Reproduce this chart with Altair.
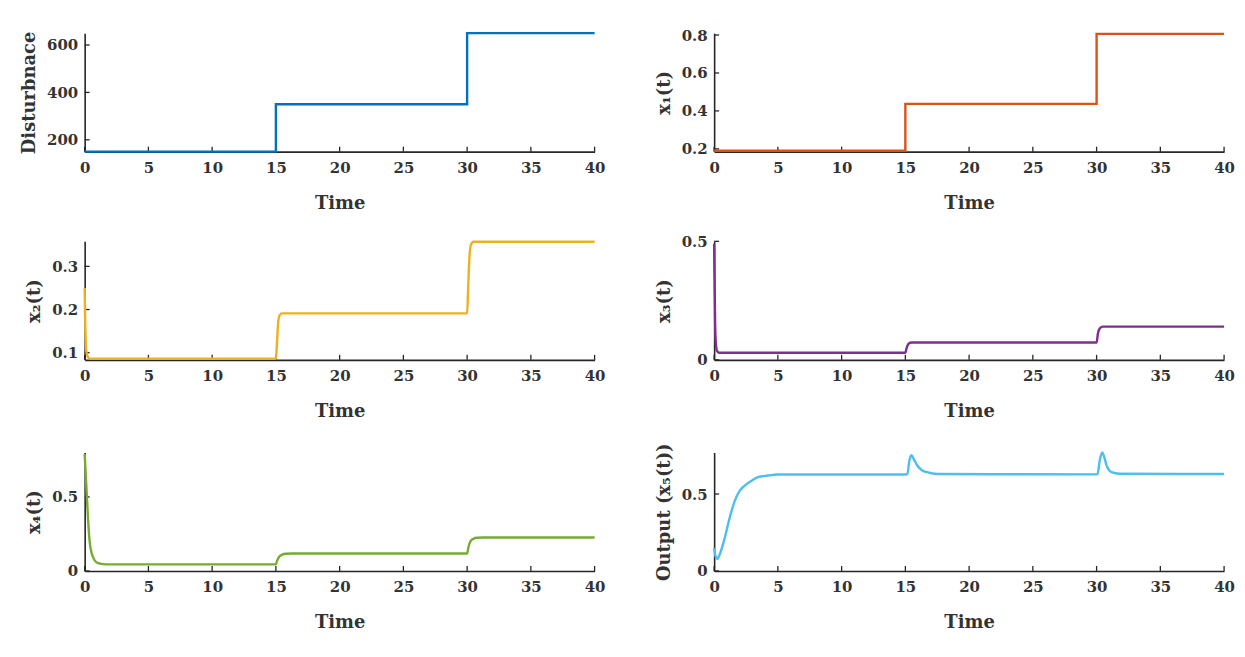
import altair as alt
import pandas as pd

# ---- data ----
dist_t = [0, 15, 15, 30, 30, 40]
dist_v = [150, 150, 350, 350, 650, 650]

x1_t = [0, 15, 15, 30, 30, 40]
x1_v = [0.19, 0.19, 0.437, 0.437, 0.806, 0.806]

x2_t = [0, 0.03, 0.08, 0.15, 0.25, 0.4, 15, 15.08, 15.18, 15.3, 15.5, 30, 30.08, 30.18, 30.3, 30.5, 40]
x2_v = [0.25, 0.19, 0.13, 0.1, 0.09, 0.086, 0.086, 0.12, 0.17, 0.187, 0.191, 0.191, 0.25, 0.32, 0.35, 0.357, 0.357]

x3_t = [0, 0.03, 0.08, 0.15, 0.25, 0.4, 15, 15.1, 15.25, 15.5, 30, 30.1, 30.25, 30.5, 40]
x3_v = [0.49, 0.35, 0.15, 0.06, 0.035, 0.03, 0.03, 0.05, 0.068, 0.073, 0.073, 0.11, 0.133, 0.14, 0.14]

x4_t = [0, 0.08, 0.18, 0.28, 0.39, 0.55, 0.7, 0.91, 1.2, 1.7, 2.5, 15, 15.1, 15.26, 15.5, 15.76, 16.3, 30, 30.1, 30.26, 30.5, 30.76, 31.3, 40]
x4_v = [0.79, 0.66, 0.49, 0.33, 0.2, 0.12, 0.085, 0.06, 0.05, 0.045, 0.045, 0.045, 0.07, 0.096, 0.11, 0.116, 0.118, 0.118, 0.16, 0.2, 0.218, 0.224, 0.226, 0.226]

x5_t = [0, 0.1, 0.26, 0.45, 0.83, 1.2, 1.62, 2.0, 2.4, 3.0, 3.44, 4.2, 5.0, 15.0, 15.16, 15.3, 15.47, 15.7, 15.94, 16.3, 16.7, 17.5, 30.0, 30.08, 30.25, 30.44, 30.6, 30.78, 31.17, 31.8, 40]
x5_v = [0.149, 0.1, 0.079, 0.11, 0.214, 0.34, 0.456, 0.52, 0.555, 0.59, 0.609, 0.62, 0.627, 0.627, 0.63, 0.71, 0.752, 0.72, 0.685, 0.655, 0.642, 0.63, 0.628, 0.632, 0.72, 0.77, 0.74, 0.686, 0.642, 0.632, 0.63]

time_ticks = [0, 5, 10, 15, 20, 25, 30, 35, 40]

W, H = 512, 119
FONT = "DejaVu Serif"
AXC = "#262626"

panels = [
    dict(t=dist_t, v=dist_v, color="#0072BD", title="Disturbnace", dom=[150, 650], ticks=[200, 400, 600], interp="linear"),
    dict(t=x1_t, v=x1_v, color="#D95319", title="x₁(t)", dom=[0.185, 0.81], ticks=[0.2, 0.4, 0.6, 0.8], interp="linear"),
    dict(t=x2_t, v=x2_v, color="#EDB120", title="x₂(t)", dom=[0.0835, 0.358], ticks=[0.1, 0.2, 0.3], interp="monotone"),
    dict(t=x3_t, v=x3_v, color="#7E2F8E", title="x₃(t)", dom=[0, 0.5], ticks=[0, 0.5], interp="monotone"),
    dict(t=x4_t, v=x4_v, color="#77AC30", title="x₄(t)", dom=[0, 0.8], ticks=[0, 0.5], interp="monotone"),
    dict(t=x5_t, v=x5_v, color="#4DBEEE", title="Output (x₅(t))", dom=[0, 0.77], ticks=[0, 0.5], interp="monotone"),
]


def make_panel(p):
    df = pd.DataFrame({"t": p["t"], "v": p["v"], "i": list(range(len(p["t"])))})
    xsc = alt.Scale(domain=[0, 40], nice=False, zero=False)
    ysc = alt.Scale(domain=p["dom"], nice=False, zero=False)
    xax = alt.Axis(title="Time", values=time_ticks, format="~r")
    yax = alt.Axis(title=p["title"], values=p["ticks"], format="~r")
    line = alt.Chart(df).mark_line(color=p["color"], strokeWidth=2.4, interpolate=p["interp"]).encode(
        x=alt.X("t:Q", scale=xsc, axis=xax),
        y=alt.Y("v:Q", scale=ysc, axis=yax),
        order="i:Q",
    )
    xt = alt.Chart(pd.DataFrame({"t": time_ticks})).mark_rule(color=AXC, strokeWidth=1.3).encode(
        x=alt.X("t:Q", scale=xsc, axis=xax),
        y=alt.value(H),
        y2=alt.value(H - 5),
    )
    yt = alt.Chart(pd.DataFrame({"v": p["ticks"]})).mark_rule(color=AXC, strokeWidth=1.3).encode(
        y=alt.Y("v:Q", scale=ysc, axis=yax),
        x=alt.value(0),
        x2=alt.value(5),
    )
    return alt.layer(yt, xt, line).properties(width=W, height=H)


chart = alt.concat(*[make_panel(p) for p in panels], columns=2,
                   spacing=alt.RowColnumber(row=22, column=49)).properties(
    padding={"left": 20, "top": 26, "right": 10, "bottom": 5},
    background="white",
).configure_view(stroke=None).configure_axis(
    domainColor=AXC,
    domainWidth=1.6,
    ticks=False,
    grid=False,
    labelFont=FONT,
    labelFontSize=15,
    labelFontWeight="bold",
    labelColor="#333333",
    labelPadding=7,
    titleFont=FONT,
    titleFontSize=18,
    titleFontWeight="bold",
    titleColor="#333333",
).configure_axisX(titlePadding=19, labelPadding=9, labelFlush=False).configure_axisY(titlePadding=8, labelFlush=False)

chart.save("out.html", embed_options={"renderer": "svg", "actions": False})
